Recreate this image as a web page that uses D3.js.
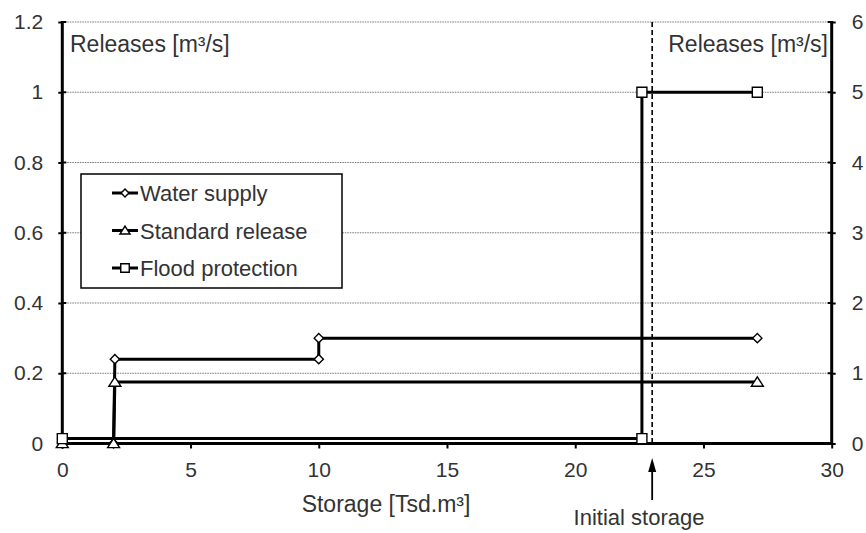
<!DOCTYPE html>
<html>
<head>
<meta charset="utf-8">
<script src="https://cdn.jsdelivr.net/npm/d3@7"></script>
<style>
  html, body { margin: 0; padding: 0; background: #fff; }
  svg { display: block; font-family: "Liberation Sans", Arial, sans-serif; }
</style>
</head>
<body>
<svg id="chart" width="866" height="533"></svg>
<script>
// Storage levels (Tsd. m³) and release rules (m³/s)
const waterSupplyX = [0, 2, 2.05, 10, 10, 27.1];
const waterSupplyY = [0, 0, 0.24, 0.24, 0.30, 0.30];

const standardX = [0, 2, 2.05, 27.1];
const standardY = [0, 0, 0.175, 0.175];

// flood protection is read on the right-hand axis
const floodX = [0, 22.6, 22.6, 27.1];
const floodY = [0.07, 0.07, 5, 5];

const initialStorage = 23;

const xTicks = [0, 5, 10, 15, 20, 25, 30];
const yLeftTicks = [0, 0.2, 0.4, 0.6, 0.8, 1, 1.2];
const yRightTicks = [0, 1, 2, 3, 4, 5, 6];

const seriesNames = ["Water supply", "Standard release", "Flood protection"];

const svg = d3.select("#chart");
const margin = { left: 62.3, right: 866 - 831.7, top: 22, bottom: 533 - 443.5 };

const x = d3.scaleLinear().domain([0, 30]).range([margin.left, 866 - margin.right]);
const yL = d3.scaleLinear().domain([0, 1.2]).range([533 - margin.bottom, margin.top]);
const yR = d3.scaleLinear().domain([0, 6]).range([533 - margin.bottom, margin.top]);

const textColor = "#333";

// horizontal grid
svg.append("g")
  .selectAll("line")
  .data(yLeftTicks.filter(d => d > 0))
  .join("line")
  .attr("x1", x(0)).attr("x2", x(30))
  .attr("y1", d => yL(d)).attr("y2", d => yL(d))
  .attr("stroke", "#777").attr("stroke-width", 1)
  .attr("stroke-dasharray", "1.5,1");

// initial storage marker
svg.append("line")
  .attr("x1", x(initialStorage)).attr("x2", x(initialStorage))
  .attr("y1", yL(1.2)).attr("y2", yL(0))
  .attr("stroke", "#000").attr("stroke-width", 1.6)
  .attr("stroke-dasharray", "5,3");

// axes
const tickFont = 21;
const axisBottom = d3.axisBottom(x).tickValues(xTicks).tickSize(5).tickPadding(14).tickFormat(d3.format("d"));
const axisLeft = d3.axisLeft(yL).tickValues(yLeftTicks).tickSize(4).tickPadding(15).tickFormat(d => String(d));
const axisRight = d3.axisRight(yR).tickValues(yRightTicks).tickSize(4).tickPadding(16).tickFormat(d3.format("d"));

function styleAxis(g) {
  g.select(".domain").remove();
  g.selectAll(".tick line").attr("stroke", "#000").attr("stroke-width", 2);
  g.selectAll(".tick text").attr("fill", textColor).style("font-size", tickFont + "px")
    .style("font-family", "'Liberation Sans', Arial, sans-serif");
}

svg.append("g").attr("transform", `translate(0,${yL(0)})`).call(axisBottom).call(styleAxis);
svg.append("g").attr("transform", `translate(${x(0)},0)`).call(axisLeft).call(styleAxis);
svg.append("g").attr("transform", `translate(${x(30)},0)`).call(axisRight).call(styleAxis);

// tick marks crossing into the plot on the vertical axes
svg.append("g").selectAll("line").data(yLeftTicks).join("line")
  .attr("x1", x(0)).attr("x2", x(0) + 4).attr("y1", d => yL(d)).attr("y2", d => yL(d))
  .attr("stroke", "#000").attr("stroke-width", 2);
svg.append("g").selectAll("line").data(yRightTicks).join("line")
  .attr("x1", x(30) - 4).attr("x2", x(30)).attr("y1", d => yR(d)).attr("y2", d => yR(d))
  .attr("stroke", "#000").attr("stroke-width", 2);

// axis lines
svg.append("line").attr("x1", x(0)).attr("x2", x(0)).attr("y1", yL(1.2) - 1).attr("y2", yL(0) + 1)
  .attr("stroke", "#000").attr("stroke-width", 3);
svg.append("line").attr("x1", x(30)).attr("x2", x(30)).attr("y1", yL(1.2) - 1).attr("y2", yL(0) + 1)
  .attr("stroke", "#000").attr("stroke-width", 3);
svg.append("line").attr("x1", x(0)).attr("x2", x(30)).attr("y1", yL(0)).attr("y2", yL(0))
  .attr("stroke", "#000").attr("stroke-width", 3);

// marker shapes
const diamond = r => `M0,${-r}L${r},0L0,${r}L${-r},0Z`;
const triangle = r => `M0,${-r}L${r * 1.15},${r * 0.8}L${-r * 1.15},${r * 0.8}Z`;
const square = r => `M${-r},${-r}H${r}V${r}H${-r}Z`;

// series
const line = d3.line();
const series = [
  { name: seriesNames[0], pts: waterSupplyX.map((d, i) => [x(d), yL(waterSupplyY[i])]), sym: diamond, r: 4.6 },
  { name: seriesNames[1], pts: standardX.map((d, i) => [x(d), yL(standardY[i])]), sym: triangle, r: 5.2 },
  { name: seriesNames[2], pts: floodX.map((d, i) => [x(d), yR(floodY[i])]), sym: square, r: 5 }
];

series.forEach(s => {
  svg.append("path").attr("d", line(s.pts)).attr("fill", "none")
    .attr("stroke", "#000").attr("stroke-width", 3).attr("stroke-linejoin", "miter");
});
series.forEach(s => {
  svg.append("g").selectAll("path").data(s.pts).join("path")
    .attr("transform", d => `translate(${d[0]},${d[1]})`)
    .attr("d", s.sym(s.r))
    .attr("fill", "#fff").attr("stroke", "#000").attr("stroke-width", 1.4);
});

// axis titles
svg.append("text").attr("x", 70).attr("y", 52).text("Releases [m³/s]")
  .attr("fill", textColor).style("font-size", "23px");
svg.append("text").attr("x", 828).attr("y", 52).attr("text-anchor", "end").text("Releases [m³/s]")
  .attr("fill", textColor).style("font-size", "23px");
svg.append("text").attr("x", 386).attr("y", 512).attr("text-anchor", "middle")
  .text("Storage [Tsd.m³]").attr("fill", textColor).style("font-size", "23px");

// initial storage annotation
svg.append("line").attr("x1", x(initialStorage)).attr("x2", x(initialStorage))
  .attr("y1", 468).attr("y2", 500).attr("stroke", "#000").attr("stroke-width", 1.8);
svg.append("path")
  .attr("d", `M${x(initialStorage)},458 l-4,14 l8,0 Z`).attr("fill", "#000");
svg.append("text").attr("x", 639).attr("y", 525).attr("text-anchor", "middle")
  .text("Initial storage").attr("fill", textColor).style("font-size", "22px");

// legend
const lg = svg.append("g").attr("transform", "translate(81,174)");
lg.append("rect").attr("width", 261).attr("height", 114)
  .attr("fill", "#fff").attr("stroke", "#000").attr("stroke-width", 1.5);
series.forEach((s, i) => {
  const cy = 19 + i * 37.5;
  lg.append("line").attr("x1", 31).attr("x2", 57).attr("y1", cy).attr("y2", cy)
    .attr("stroke", "#000").attr("stroke-width", 3);
  lg.append("path").attr("transform", `translate(44,${cy})`)
    .attr("d", s.sym(s.r * 0.85))
    .attr("fill", "#fff").attr("stroke", "#000").attr("stroke-width", 1.4);
  lg.append("text").attr("x", 59).attr("y", cy + 8).text(s.name)
    .attr("fill", textColor).style("font-size", "22px");
});
</script>
</body>
</html>
